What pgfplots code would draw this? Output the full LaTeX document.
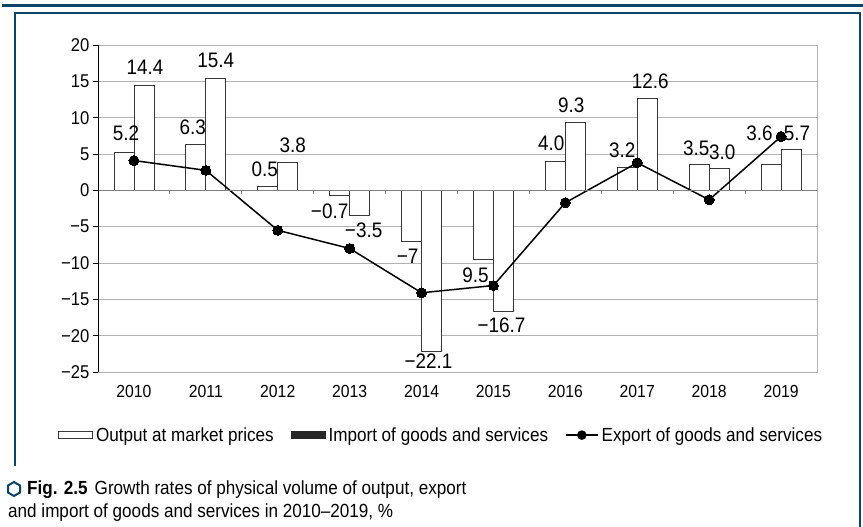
\documentclass[border=0pt]{standalone}
\usepackage{fontspec}
\setmainfont{Liberation Sans}[FakeStretch=0.9]
\usepackage{pgfplots}
\usepackage{pgfplotstable}
\pgfplotsset{compat=1.18}

\definecolor{frameblue}{RGB}{12,68,104}
\definecolor{gridgray}{RGB}{178,178,178}
\definecolor{baredge}{RGB}{55,55,55}

\newcommand\tickfont{\fontsize{18.5}{20}\selectfont}
\newcommand\yearfont{\fontsize{17.5}{19}\selectfont}
\newcommand\labelfont{\fontsize{21}{23}\selectfont}
\newcommand\legfont{\fontsize{19}{21}\selectfont}
\newcommand\capfont{\fontsize{19}{21}\selectfont}

% growth rates, %: output, import (bars) and export (line);
% olab/ilab are the printed labels, odx/ody and idx/idy their offsets in pt
\pgfplotstableread{
x  out   olab  odx   ody   imp    ilab   idx  idy   exp
0  5.2   5.2   2     19    14.4   14.4   1    18    4.1
1  6.3   6.3   -3    17    15.4   15.4   0    18    2.75
2  0.5   0.5   -3    17    3.8    3.8    5    17    -5.5
3  -0.7  −0.7  -10   -16   -3.5   −3.5   4    -15   -8.0
4  -7.0  −7    -4    -15   -22.1  −22.1  -3   -10   -14.1
5  -9.5  9.5   -8    -16   -16.7  −16.7  -2   -14   -13.1
6  4.0   4.0   -4    18    9.3    9.3    -4   17    -1.7
7  3.2   3.2   -5    17    12.6   12.6   3    17.5  3.8
8  3.5   3.5   -3    16.5  3.0    3.0    3    16    -1.3
9  3.6   3.6   -11.5 31    5.7    5.7    6    15.5  7.4
}\growth

\begin{document}
\begin{tikzpicture}
\path[use as bounding box] (0pt,0pt) rectangle (863pt,527pt);

% frame
\draw[frameblue, line width=3pt] (2pt,521.5pt) -- (863pt,521.5pt);
\draw[frameblue, line width=2.5pt] (15pt,61pt) -- (15pt,514pt) -- (860pt,514pt) -- (860pt,0pt);

\begin{axis}[
  at={(98pt,155pt)}, anchor=south west,
  scale only axis, width=719pt, height=327pt,
  xmin=-0.5, xmax=9.5, ymin=-25, ymax=20,
  xtick={0,...,9},
  xticklabels={2010,2011,2012,2013,2014,2015,2016,2017,2018,2019},
  ytick={-25,-20,...,20},
  yticklabels={−25,−20,−15,−10,−5,0,5,10,15,20},
  ytick pos=left,
  xtick style={draw=none},
  ytick style={black, line width=0.8pt},
  major tick length=5pt,
  tick align=outside,
  xticklabel style={font=\yearfont, yshift=-5pt},
  yticklabel style={font=\tickfont},
  axis line style={gridgray, line width=0.8pt},
  ymajorgrids,
  grid style={gridgray, line width=0.8pt},
  legend columns=3,
  legend style={at={(0.478,-0.193)}, anchor=center, draw=none, fill=none,
    font=\legfont,
    nodes={inner xsep=3pt},
    /tikz/every even column/.append style={column sep=14pt}},
  legend cell align=left,
  after end axis/.code={
    \draw[gray, line width=0.8pt] (axis cs:-0.5,0) -- (axis cs:9.5,0);
    \foreach \k in {0,...,8} {
      \draw[gray, line width=0.8pt] (axis cs:\k+0.5,0) -- ++(0pt,-4pt);
    }
    \draw[black, line width=0.9pt] (rel axis cs:0,0) -- (rel axis cs:0,1);
  },
]

\addplot[ybar, bar width=0.278, bar shift=-0.139, fill=white, draw=baredge, line width=0.8pt,
  legend image code/.code={\draw[draw=baredge, line width=0.8pt, fill=white] (0pt,-3.5pt) rectangle (34pt,3.5pt);}]
  table[x=x, y=out] {\growth};

\addplot[ybar, bar width=0.278, bar shift=0.139, fill=white, draw=baredge, line width=0.8pt,
  legend image code/.code={\fill[black!85] (0pt,-3.5pt) rectangle (34pt,3.5pt);}]
  table[x=x, y=imp] {\growth};

% value labels of the bars
\addplot[forget plot, only marks, mark=*, mark size=0pt, mark options={draw=none, fill=none},
  point meta=explicit symbolic,
  visualization depends on={\thisrow{odx} \as \ldx},
  visualization depends on={\thisrow{ody} \as \ldy},
  nodes near coords,
  nodes near coords style={anchor=center, xshift=\ldx pt, yshift=\ldy pt, font=\labelfont, text=black, inner sep=0pt}]
  table[x expr=\thisrow{x}-0.139, y=out, meta=olab] {\growth};

\addplot[forget plot, only marks, mark=*, mark size=0pt, mark options={draw=none, fill=none},
  point meta=explicit symbolic,
  visualization depends on={\thisrow{idx} \as \ldx},
  visualization depends on={\thisrow{idy} \as \ldy},
  nodes near coords,
  nodes near coords style={anchor=center, xshift=\ldx pt, yshift=\ldy pt, font=\labelfont, text=black, inner sep=0pt}]
  table[x expr=\thisrow{x}+0.139, y=imp, meta=ilab] {\growth};

\addplot[black, line width=1.5pt, mark=*, mark size=5pt, mark options={fill=black, draw=black, line width=0pt},
  legend image code/.code={\draw[black, line width=1.5pt] (0pt,0pt) -- (32pt,0pt); \fill[black] (16pt,0pt) circle (4pt);}]
  table[x=x, y=exp] {\growth};

\legend{Output at market prices, Import of goods and services, Export of goods and services}
\end{axis}

% caption
\draw[frameblue, line width=2pt] (14pt,45pt) -- (20pt,41.5pt) -- (20pt,34.5pt) -- (14pt,31pt) -- (8pt,34.5pt) -- (8pt,41.5pt) -- cycle;
\node[anchor=base west, inner sep=0pt, font=\capfont] at (27pt,32pt)
  {\textbf{Fig. 2.5}\hspace{7pt}Growth rates of physical volume of output, export};
\node[anchor=base west, inner sep=0pt, font=\capfont] at (8pt,9pt)
  {and import of goods and services in 2010–2019, \%};
\end{tikzpicture}
\end{document}
